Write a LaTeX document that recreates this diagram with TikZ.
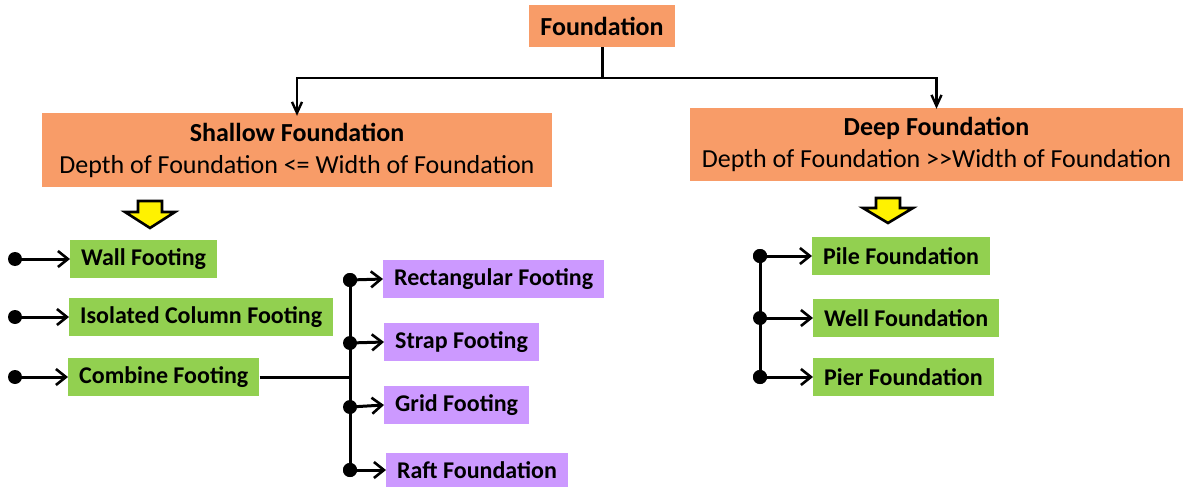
\documentclass[tikz,border=0pt]{standalone}
\usepackage{fontspec}
\setmainfont{Carlito}
\usetikzlibrary{arrows.meta}
\definecolor{headorange}{RGB}{248,156,104}
\definecolor{leafgreen}{RGB}{146,208,80}
\definecolor{leafpurple}{RGB}{204,153,255}

\begin{document}
\begin{tikzpicture}[x=1pt, y=-1pt,
  leaf/.style={rectangle, anchor=west, inner xsep=11pt, inner ysep=0pt,
    minimum height=38pt, font=\bfseries\fontsize{24}{26}\selectfont},
  green leaf/.style={leaf, fill=leafgreen},
  purple leaf/.style={leaf, fill=leafpurple},
  head/.style={rectangle, fill=headorange, align=center, inner sep=0pt,
    font=\fontsize{26}{32}\selectfont},
  dot/.style={circle, fill=black, inner sep=0pt, minimum size=14pt},
  link/.style={line width=3pt, -{Straight Barb[length=10pt,width=16pt,line width=2.6pt]}},
  down/.style={line width=2.6pt, -{Straight Barb[length=11pt,width=10pt,line width=2.4pt]}},
  trunk/.style={line width=3pt},
  blockarrow/.style={draw=black, fill=yellow, line width=2.6pt, line join=miter}]
\useasboundingbox (0,0) rectangle (1186,487);

% top level
\node[head, minimum width=146pt, minimum height=42pt,
  font=\bfseries\fontsize{26}{30}\selectfont] (found) at (602,26) {Foundation};
\node[head, minimum width=510pt, minimum height=74pt] (shallow) at (297,150)
  {\textbf{Shallow Foundation}\\ Depth of Foundation <= Width of Foundation};
\node[head, minimum width=493pt, minimum height=73pt] (deep) at (936.5,144.5)
  {\textbf{Deep Foundation}\\ Depth of Foundation >{}>Width of Foundation};
\coordinate (split) at (602,78);
\draw[trunk] (found.south) -- (split);
\draw[down] (split) -| ([yshift=-3pt]shallow.north);
\draw[down] (split) -| ([yshift=-1pt]deep.north);

% yellow block arrows
\draw[blockarrow] (138,201) -- ++(24,0) -- ++(0,11) -- ++(13,0) -- ++(-25,16)
  -- ++(-25,-16) -- ++(13,0) -- cycle;
\draw[blockarrow] (876,198) -- ++(24,0) -- ++(0,10) -- ++(13,0) -- ++(-25,15)
  -- ++(-25,-15) -- ++(13,0) -- cycle;

% shallow foundation types
\node[green leaf] (wall) at (70,259) {Wall Footing};
\node[green leaf] (isolated) at (69,317) {Isolated Column Footing};
\node[green leaf] (combine) at (68,377) {Combine Footing};
\foreach \n/\y in {wall/259, isolated/317, combine/377} {
  \node[dot] (d\n) at (15,\y) {};
  \draw[link] (d\n.center) -- (\n.west);
}

% combined footing variants
\node[purple leaf] (rect) at (383,279) {Rectangular Footing};
\node[purple leaf] (strap) at (384,342) {Strap Footing};
\node[purple leaf] (grid) at (384,405) {Grid Footing};
\node[purple leaf, minimum height=35pt] (raft) at (386,470) {Raft Foundation};
\node[dot] (drect) at (350,280) {};
\node[dot] (draft) at (350,470) {};
\draw[trunk] (drect.center) -- (draft.center);
\draw[trunk] (combine.east) -- (350,377);
\foreach \n/\y in {rect/280, strap/343, grid/407, raft/470} {
  \node[dot] (d\n) at (350,\y) {};
  \draw[link] (d\n.center) -- (\n.west);
}

% deep foundation types
\node[green leaf] (pile) at (812,256) {Pile Foundation};
\node[green leaf] (well) at (813,318) {Well Foundation};
\node[green leaf] (pier) at (813,377) {Pier Foundation};
\node[dot] (dpile) at (760,256) {};
\node[dot] (dpier) at (760,377) {};
\draw[trunk] (dpile.center) -- (dpier.center);
\foreach \n/\y in {pile/256, well/318, pier/377} {
  \node[dot] (d\n) at (760,\y) {};
  \draw[link] (d\n.center) -- (\n.west);
}
\end{tikzpicture}
\end{document}
